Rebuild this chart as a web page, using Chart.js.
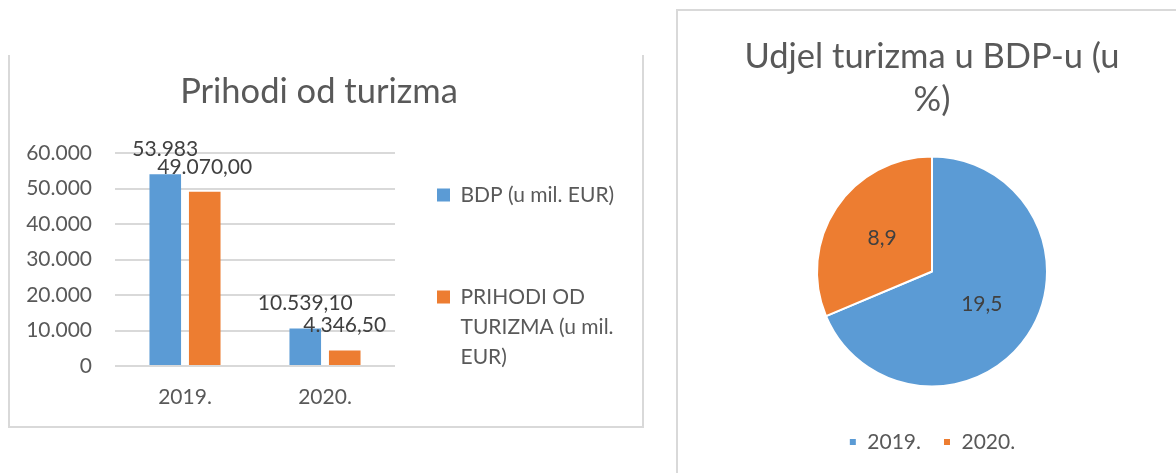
<!DOCTYPE html>
<html><head><meta charset="utf-8">
<script src="https://cdn.jsdelivr.net/npm/chart.js@4/dist/chart.umd.min.js"></script>
<style>
html,body{margin:0;padding:0;background:#fff;width:1176px;height:473px;overflow:hidden;position:relative;}
#boxL{position:absolute;left:8px;top:55px;width:632px;height:371px;border-left:2px solid #d9d9d9;border-right:2px solid #d9d9d9;border-bottom:2px solid #d9d9d9;}
#boxR{position:absolute;left:676px;top:9px;width:600px;height:600px;border-left:2px solid #d9d9d9;border-top:2px solid #d9d9d9;}
#cL{position:absolute;left:10px;top:55px;}
#cR{position:absolute;left:683px;top:11px;}
</style>
</head><body>
<div id="boxL"></div><div id="boxR"></div>
<canvas id="cL" width="632" height="371"></canvas>
<canvas id="cR" width="498" height="462"></canvas>
<script>
// ---- data ----
const categories = ['2019.', '2020.'];
const bdpValues = [53983, 10539.10];
const prihodiValues = [49070.00, 4346.50];
const bdpValueLabels = ['53.983', '10.539,10'];
const prihodiValueLabels = ['49.070,00', '4.346,50'];
const seriesNames = ['BDP (u mil. EUR)', 'PRIHODI OD TURIZMA (u mil. EUR)'];
const legendLines = [['BDP (u mil. EUR)', ''], ['PRIHODI OD', 'TURIZMA (u mil.', 'EUR)']];
const yMin = 0, yMax = 60000, yStep = 10000;
const barTitle = 'Prihodi od turizma';

const pieCategories = ['2019.', '2020.'];
const pieValues = [19.5, 8.9];
const pieValueLabels = ['19,5', '8,9'];
const pieTitle = ['Udjel turizma u BDP-u (u', '%)'];

const BLUE = '#5b9bd5', ORANGE = '#ed7d31', GREY = '#595959', DARK = '#404040';
const FONT = 'Lato';

function fmtThousands(v){ return String(v).replace(/\B(?=(\d{3})+(?!\d))/g, '.'); }

const barLabelPlugin = {
  id: 'barLabels',
  afterDatasetsDraw(chart){
    const ctx = chart.ctx;
    const labelSets = [bdpValueLabels, prihodiValueLabels];
    ctx.save();
    ctx.font = '21px ' + FONT;
    ctx.fillStyle = DARK;
    ctx.textAlign = 'center';
    ctx.textBaseline = 'middle';
    chart.data.datasets.forEach((ds, di) => {
      chart.getDatasetMeta(di).data.forEach((el, i) => {
        ctx.fillText(labelSets[di][i], el.x, el.y - 25);
      });
    });
    ctx.restore();
  }
};

const pieLabelPlugin = {
  id: 'pieLabels',
  afterDatasetsDraw(chart){
    const ctx = chart.ctx;
    ctx.save();
    ctx.font = '21px ' + FONT;
    ctx.fillStyle = DARK;
    ctx.textAlign = 'center';
    ctx.textBaseline = 'middle';
    chart.getDatasetMeta(0).data.forEach((arc, i) => {
      const p = arc.getProps(['x','y','startAngle','endAngle','outerRadius'], true);
      const mid = (p.startAngle + p.endAngle) / 2;
      const r = p.outerRadius * 0.52;
      ctx.fillText(pieValueLabels[i], p.x + Math.cos(mid) * r, p.y + Math.sin(mid) * r);
    });
    ctx.restore();
  }
};

new Chart(document.getElementById('cL'), {
  type: 'bar',
  data: {
    labels: categories,
    datasets: [
      {label: seriesNames[0], data: bdpValues, backgroundColor: BLUE, categoryPercentage: 0.564, barPercentage: 0.8},
      {label: seriesNames[1], data: prihodiValues, backgroundColor: ORANGE, categoryPercentage: 0.564, barPercentage: 0.8}
    ]
  },
  options: {
    responsive: false,
    animation: false,
    layout: {padding: {left: 5, right: 19, top: 0, bottom: 7.5}},
    scales: {
      x: {
        grid: {display: false, drawTicks: false},
        border: {display: false},
        ticks: {padding: 18.4, color: GREY, font: {family: FONT, size: 21}},
        afterFit(s){ s.height = 52.5; }
      },
      y: {
        min: yMin, max: yMax,
        ticks: {stepSize: yStep, padding: 23, color: GREY, font: {family: FONT, size: 21}, callback: v => fmtThousands(v)},
        grid: {color: '#d9d9d9', lineWidth: 2, drawTicks: false},
        border: {display: false},
        afterFit(s){ s.width = 100; }
      }
    },
    plugins: {
      title: {display: true, text: barTitle, color: GREY, font: {family: FONT, size: 34.5, weight: 'normal', lineHeight: 1.2}, padding: {top: 16.3, bottom: 40.3}},
      legend: {
        position: 'right', align: 'end', maxWidth: 228,
        labels: {
          boxWidth: 13, boxHeight: 13, padding: 42, color: GREY,
          font: {family: FONT, size: 21, lineHeight: 30/21},
          generateLabels(chart){
            const items = Chart.defaults.plugins.legend.labels.generateLabels(chart);
            items.forEach((it, i) => { it.text = legendLines[i]; it.lineWidth = 0; });
            return items;
          }
        }
      },
      tooltip: {enabled: false}
    }
  },
  plugins: [barLabelPlugin]
});

new Chart(document.getElementById('cR'), {
  type: 'pie',
  data: {
    labels: pieCategories,
    datasets: [{data: pieValues, backgroundColor: [BLUE, ORANGE], borderColor: '#ffffff', borderWidth: 2, radius: 115}]
  },
  options: {
    responsive: false,
    animation: false,
    layout: {padding: {bottom: 10.5}},
    plugins: {
      title: {display: true, text: pieTitle, color: GREY, font: {family: FONT, size: 34.5, weight: 'normal', lineHeight: 43/34.5}, padding: {top: 24.5, bottom: 12}},
      legend: {position: 'bottom', labels: {boxWidth: 8, boxHeight: 8, padding: 22, color: GREY, font: {family: FONT, size: 21}}},
      tooltip: {enabled: false}
    }
  },
  plugins: [pieLabelPlugin]
});
</script>
</body></html>
